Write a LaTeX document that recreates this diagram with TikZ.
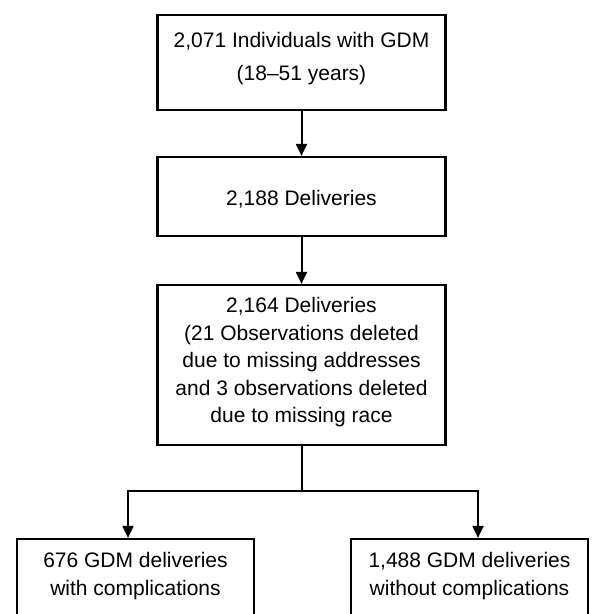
\documentclass[tikz,border=0pt]{standalone}
\usepackage{fontspec}
\setmainfont{Liberation Sans}
\usetikzlibrary{arrows,arrows.meta,positioning}
\tikzset{
    %Define standard arrow tip
    >={Triangle[length=12pt,width=11pt]},
    %Define style for boxes
    stage/.style={
           rectangle,
           draw=black, line width=2.2pt,
           minimum width=288pt,
           align=center,
           font=\fontsize{21}{33}\selectfont},
    outcome/.style={
           rectangle,
           draw=black, line width=2.2pt,
           minimum width=237pt,
           minimum height=80pt,
           text depth=9.3pt,
           align=center,
           font=\fontsize{21}{28}\selectfont},
    % Define arrow style
    pil/.style={
           ->,
           line width=2pt}
}
\begin{document}
\begin{tikzpicture}[x=1pt,y=1pt]
\useasboundingbox (0,0) rectangle (595,-614);
 %nodes
\node[stage, minimum height=95pt, text depth=11.3pt] (indiv) at (301.5,-62.5) {2,071 Individuals with GDM\\(18--51 years)};
\node[stage, minimum height=79pt, text height=21pt, below=44.8pt of indiv] (deliv) {2,188 Deliveries};
\node[stage, minimum height=160pt, text depth=9.3pt, below=46.8pt of deliv, font=\fontsize{21}{27.5}\selectfont] (clean) {2,164 Deliveries\\(21 Observations deleted\\due to missing addresses\\and 3 observations deleted\\due to missing race};
\node[outcome, below=91.8pt of clean, xshift=-166pt] (compl) {676 GDM deliveries\\with complications};
\node[outcome, below=91.8pt of clean, xshift=168pt] (nocompl) {1,488 GDM deliveries\\without complications};
\coordinate[below=45pt of clean] (split);
 \path[pil]
    (indiv) edge (deliv)
    (deliv) edge (clean);
\draw[line width=2pt] (clean) -- (split);
\draw[pil] (split) -| ([xshift=-7.5pt]compl.north);
\draw[pil] (split) -| ([xshift=8.5pt]nocompl.north);
\end{tikzpicture}
\end{document}
